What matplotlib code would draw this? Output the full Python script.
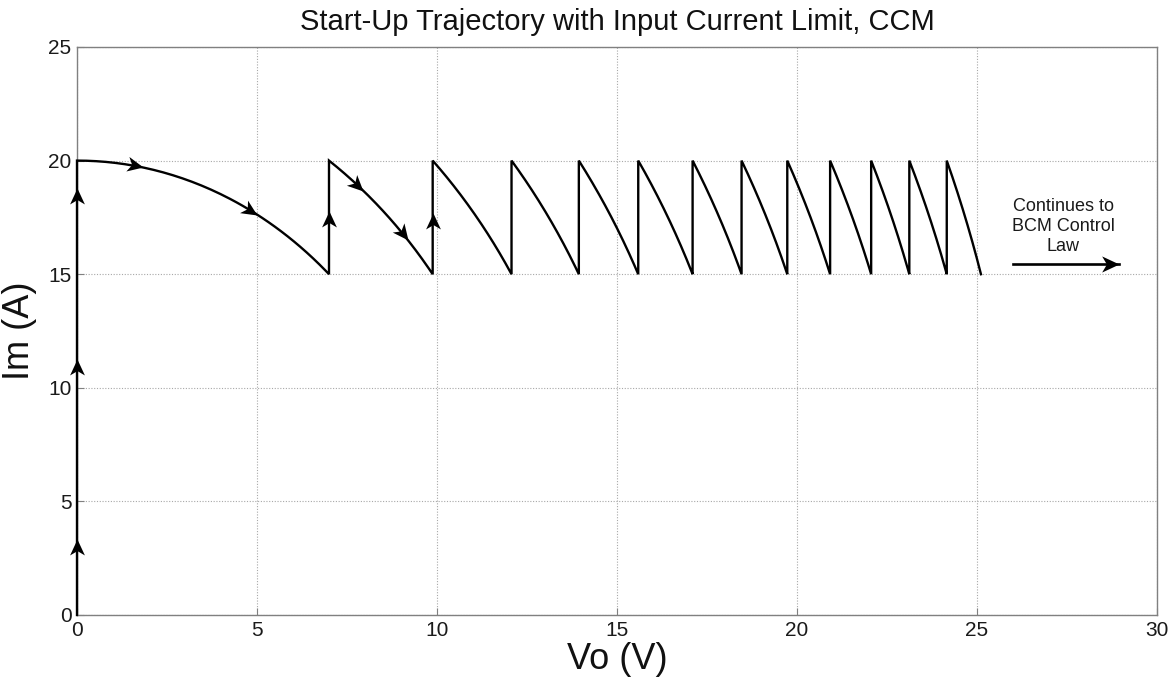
import numpy as np
import matplotlib
matplotlib.use('Agg')
import matplotlib.pyplot as plt
from matplotlib.path import Path
from matplotlib.markers import MarkerStyle
from matplotlib.transforms import Affine2D

# ---- data ----
peak_vo = [0.0, 7.0, 9.88, 12.07, 13.94, 15.59, 17.1, 18.46, 19.73, 20.92,
           22.06, 23.12, 24.16, 25.11]
im_high = 20.0
im_low = 15.0
im_start = 0.0
# arrow markers on vertical segments (x, y tip)
vert_arrow_x = [0.0, 0.0, 0.0, 7.0, 9.88]
vert_arrow_y = [3.35, 11.27, 18.8, 17.8, 17.7]
# arrow markers on arcs: (arc index, x of tip)
arc_arrow_idx = [0, 0, 1, 1]
arc_arrow_x = [1.83, 5.0, 7.95, 9.2]

note_text = "Continues to\nBCM Control\nLaw"
note_xy = (27.4, 17.1)
cont_arrow_x = [26.0, 28.95]
cont_arrow_y = 15.45

x_ticks = [0, 5, 10, 15, 20, 25, 30]
y_ticks = [0, 5, 10, 15, 20, 25]

plt.rcParams['font.family'] = ['Liberation Sans', 'DejaVu Sans']

fig = plt.figure(figsize=(11.75, 6.80), dpi=100)
ax = fig.add_axes([77/1175, 1 - 615/680, (1157-77)/1175, (615-47)/680])
ax.set_xlim(0, 30)
ax.set_ylim(0, 25)


def arc(v0, v1, n=80):
    v = np.linspace(v0, v1, n)
    i = np.sqrt(im_high**2 - (im_high**2 - im_low**2) * (v**2 - v0**2) / (v1**2 - v0**2))
    return v, i


def arc_at(k, v):
    v0, v1 = peak_vo[k], peak_vo[k + 1]
    return np.sqrt(im_high**2 - (im_high**2 - im_low**2) * (v**2 - v0**2) / (v1**2 - v0**2))


xs = [peak_vo[0], peak_vo[0]]
ys = [im_start, im_high]
for k in range(len(peak_vo) - 1):
    v, i = arc(peak_vo[k], peak_vo[k + 1])
    xs.extend(v.tolist())
    ys.extend(i.tolist())
    if k < len(peak_vo) - 2:
        xs.extend([peak_vo[k + 1], peak_vo[k + 1]])
        ys.extend([im_low, im_high])

ax.plot(xs, ys, color='black', lw=1.7, solid_joinstyle='miter', zorder=5,
        clip_on=False)

# arrowhead marker with tip at origin, pointing +x
head = Path([(0, 0), (-2, 0.93), (-1.45, 0), (-2, -0.93), (0, 0)],
            [Path.MOVETO, Path.LINETO, Path.LINETO, Path.LINETO, Path.CLOSEPOLY])


def draw_head(x, y, dx, dy, size=23):
    p0 = ax.transData.transform((x, y))
    p1 = ax.transData.transform((x + dx, y + dy))
    ang = np.arctan2(p1[1] - p0[1], p1[0] - p0[0])
    m = MarkerStyle(head, transform=Affine2D().rotate(ang))
    ax.plot([x], [y], marker=m, markersize=size, color='black',
            markeredgewidth=0, linestyle='none', zorder=6, clip_on=False)


for x, y in zip(vert_arrow_x, vert_arrow_y):
    draw_head(x, y, 0, 1)

for k, x in zip(arc_arrow_idx, arc_arrow_x):
    y = arc_at(k, x)
    h = 1e-3
    dy = arc_at(k, x + h) - y
    draw_head(x, y, h, dy)

# continuation arrow
ax.plot(cont_arrow_x, [cont_arrow_y, cont_arrow_y], color='black', lw=1.9, zorder=5)
draw_head(cont_arrow_x[1], cont_arrow_y, 1, 0, size=25)
ax.text(note_xy[0], note_xy[1], note_text, ha='center', va='center',
        fontsize=13, linespacing=1.25, color='#1a1a1a')

ax.set_xticks(x_ticks)
ax.set_yticks(y_ticks)
ax.grid(True, color='#a8a8a8', linestyle=(0, (1, 1.5)), lw=0.8)
ax.tick_params(direction='in', length=5, width=0.8, color='#808080',
               labelsize=15, labelcolor='#1a1a1a', pad=4)
for s in ax.spines.values():
    s.set_color('#808080')
    s.set_linewidth(1.0)
    s.set_zorder(4)

ax.set_xlabel('Vo (V)', fontsize=26, labelpad=2, color='#111111')
ax.set_ylabel('Im (A)', fontsize=26, labelpad=8, color='#111111')
ax.set_title('Start-Up Trajectory with Input Current Limit, CCM',
             fontsize=21, pad=12, color='#111111')

fig.savefig('out.png', dpi=100)
